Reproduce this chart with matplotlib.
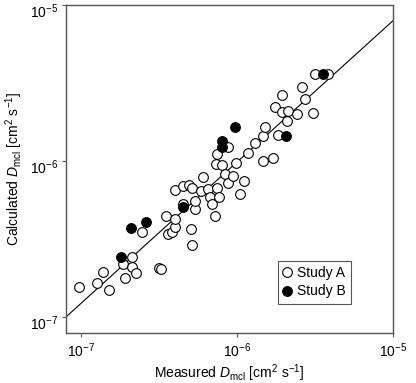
import matplotlib
matplotlib.use("Agg")
import matplotlib.pyplot as plt
import matplotlib.transforms as mtransforms
import numpy as np

plt.rcParams["font.family"] = ["Liberation Sans", "DejaVu Sans"]
plt.rcParams["mathtext.fontset"] = "custom"
plt.rcParams["mathtext.rm"] = "Liberation Sans"
plt.rcParams["mathtext.it"] = "Liberation Sans:italic"
plt.rcParams["mathtext.bf"] = "Liberation Sans:bold"

# Study A (open circles): measured vs calculated D_mcl [cm2/s]
study_a_measured = [
    9.7e-8, 1.27e-7, 1.38e-7, 1.51e-7, 1.86e-7, 1.91e-7, 2.12e-7, 2.12e-7,
    2.25e-7, 2.46e-7, 3.16e-7, 3.26e-7, 3.51e-7, 3.61e-7, 3.83e-7, 4.0e-7,
    4.0e-7, 4.0e-7, 4.51e-7, 4.92e-7, 5.15e-7, 5.07e-7, 5.15e-7, 4.51e-7,
    5.38e-7, 5.38e-7, 5.88e-7, 6.05e-7, 6.52e-7, 6.71e-7, 6.92e-7, 7.23e-7,
    7.45e-7, 7.67e-7, 7.33e-7, 8.02e-7, 8.38e-7, 8.75e-7, 9.42e-7, 9.86e-7,
    1.04e-6, 1.11e-6, 1.18e-6, 1.30e-6, 1.47e-6, 1.70e-6, 8.75e-7, 7.45e-7,
    1.47e-6, 1.51e-6, 1.83e-6, 1.75e-6, 1.94e-6, 1.94e-6, 2.12e-6, 2.43e-6,
    2.73e-6, 2.61e-6, 3.07e-6, 2.09e-6, 3.16e-6, 3.83e-6,
]
study_a_calculated = [
    1.56e-7, 1.65e-7, 1.94e-7, 1.49e-7, 2.19e-7, 1.78e-7, 2.43e-7, 2.09e-7,
    1.91e-7, 3.51e-7, 2.06e-7, 2.03e-7, 4.44e-7, 3.40e-7, 3.51e-7, 3.78e-7,
    4.25e-7, 6.52e-7, 6.92e-7, 7.02e-7, 6.71e-7, 3.66e-7, 2.90e-7, 5.30e-7,
    4.92e-7, 5.55e-7, 6.43e-7, 7.89e-7, 6.62e-7, 5.88e-7, 5.30e-7, 4.44e-7,
    6.71e-7, 5.88e-7, 9.57e-7, 9.42e-7, 8.25e-7, 7.23e-7, 8.01e-7, 9.71e-7,
    6.14e-7, 7.44e-7, 1.125e-6, 1.30e-6, 1.0e-6, 1.045e-6, 1.23e-6, 1.11e-6,
    1.45e-6, 1.65e-6, 1.47e-6, 2.22e-6, 2.65e-6, 2.06e-6, 2.09e-6, 2.0e-6,
    2.49e-6, 2.98e-6, 2.03e-6, 1.80e-6, 3.61e-6, 3.61e-6,
]

# Study B (filled circles)
study_b_measured = [1.80e-7, 2.09e-7, 2.61e-7, 4.51e-7, 8.02e-7, 8.02e-7, 9.7e-7, 2.06e-6, 3.56e-6]
study_b_calculated = [2.43e-7, 3.72e-7, 4.06e-7, 5.07e-7, 1.34e-6, 1.23e-6, 1.65e-6, 1.45e-6, 3.61e-6]

# fitted line, log10(calc) = intercept + slope * log10(measured)
fit_slope = 0.906
fit_intercept = -0.57

x_limits = (8.0e-8, 1e-5)
y_limits = (7.9e-8, 1e-5)
decade_ticks = [1e-7, 1e-6, 1e-5]


def main():
    fig = plt.figure(figsize=(4.16, 3.83), dpi=100)
    ax = fig.add_axes([0.159, 0.131, 0.786, 0.856])

    line_x = np.logspace(np.log10(x_limits[0]), np.log10(x_limits[1]), 50)
    line_y = 10 ** (fit_intercept + fit_slope * np.log10(line_x))
    ax.plot(line_x, line_y, color="black", lw=0.8, zorder=1)

    ax.plot(study_a_measured, study_a_calculated, "o", ms=7, mfc="white",
            mec="black", mew=0.8, label="Study A", zorder=2)
    ax.plot(study_b_measured, study_b_calculated, "o", ms=7, mfc="black",
            mec="black", mew=0.8, label="Study B", zorder=3)

    ax.set_xscale("log")
    ax.set_yscale("log")
    ax.set_xlim(*x_limits)
    ax.set_ylim(*y_limits)

    ax.set_xticks(decade_ticks)
    ax.set_yticks(decade_ticks)
    ax.minorticks_off()
    ax.tick_params(direction="out", length=3, width=0.8, colors="#555555",
                   labelcolor="black", labelsize=10, pad=3)

    # y tick labels sit a little below their ticks in the original
    shift = mtransforms.ScaledTranslation(0, -3.5 / 72, fig.dpi_scale_trans)
    for tick in ax.yaxis.get_major_ticks():
        tick.label1.set_transform(tick.label1.get_transform() + shift)

    for sp in ax.spines.values():
        sp.set_color("#555555")
        sp.set_linewidth(1.0)

    ax.set_xlabel(r"Measured $D_{\mathrm{mcl}}$ [cm$^2$ s$^{-1}$]", fontsize=10, labelpad=2)
    ax.set_ylabel(r"Calculated $D_{\mathrm{mcl}}$ [cm$^2$ s$^{-1}$]", fontsize=10, labelpad=3)

    leg = ax.legend(loc="lower right", bbox_to_anchor=(0.872, 0.088), fontsize=10,
                    handlelength=0.6, handletextpad=0.4, borderpad=0.4,
                    labelspacing=0.3, fancybox=False, framealpha=1,
                    borderaxespad=0)
    leg.get_frame().set_edgecolor("#555555")
    leg.get_frame().set_linewidth(0.8)

    fig.savefig("out.png", dpi=100)
    plt.close(fig)


if __name__ == "__main__":
    main()
